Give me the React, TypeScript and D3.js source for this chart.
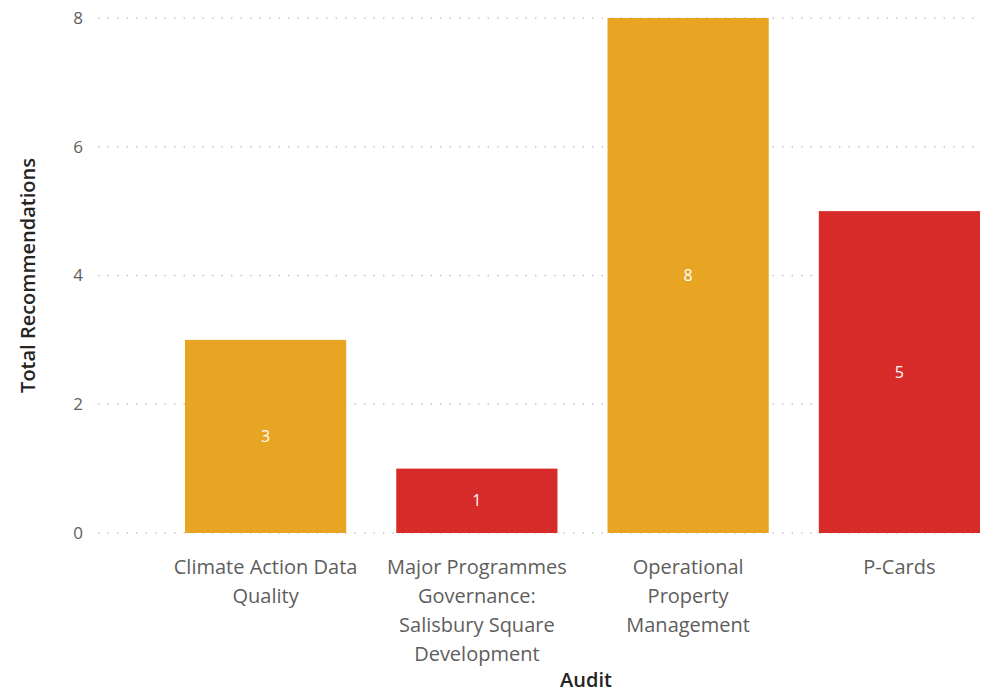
import { useEffect, useRef } from "react";
import * as d3 from "d3";

const audits: string[][] = [
  ["Climate Action Data", "Quality"],
  ["Major Programmes", "Governance:", "Salisbury Square", "Development"],
  ["Operational", "Property", "Management"],
  ["P-Cards"],
];
const recommendations = [3, 1, 8, 5];
const barColors = ["#E8A524", "#D72B2A", "#E8A524", "#D72B2A"];
const yTicks = [0, 2, 4, 6, 8];

const FONT = "'Open Sans', 'Noto Sans', sans-serif";

export default function App() {
  const ref = useRef<SVGSVGElement | null>(null);

  useEffect(() => {
    const width = 983;
    const height = 692;
    const svg = d3.select(ref.current).attr("width", width).attr("height", height);
    svg.selectAll("*").remove();

    const keys = audits.map((a) => a.join(" "));

    const x = d3.scaleBand().domain(keys).range([185, 980]).paddingInner(0.237).paddingOuter(0);
    const y = d3.scaleLinear().domain([0, 8]).range([533, 18]);

    // gridlines
    svg
      .append("g")
      .selectAll("line")
      .data(yTicks)
      .enter()
      .append("line")
      .attr("x1", 98)
      .attr("x2", 978)
      .attr("y1", (d) => y(d))
      .attr("y2", (d) => y(d))
      .attr("stroke", "#C8C6C4")
      .attr("stroke-width", 1.5)
      .attr("stroke-dasharray", "1.5,8");

    // y tick labels
    svg
      .append("g")
      .selectAll("text")
      .data(yTicks)
      .enter()
      .append("text")
      .attr("x", 83)
      .attr("y", (d) => y(d))
      .attr("dy", "0.35em")
      .attr("text-anchor", "end")
      .style("font-family", FONT)
      .style("font-size", "17px")
      .attr("fill", "#605E5C")
      .text((d) => d);

    // bars
    svg
      .append("g")
      .selectAll("rect")
      .data(recommendations)
      .enter()
      .append("rect")
      .attr("x", (_, i) => x(keys[i])!)
      .attr("y", (d) => y(d))
      .attr("width", x.bandwidth())
      .attr("height", (d) => y(0) - y(d))
      .attr("fill", (_, i) => barColors[i]);

    // data labels
    svg
      .append("g")
      .selectAll("text")
      .data(recommendations)
      .enter()
      .append("text")
      .attr("x", (_, i) => x(keys[i])! + x.bandwidth() / 2)
      .attr("y", (d) => (y(d) + y(0)) / 2)
      .attr("dy", "0.35em")
      .attr("text-anchor", "middle")
      .style("font-family", FONT)
      .style("font-size", "16px")
      .attr("fill", "#FFFFFF")
      .text((d) => d);

    // category labels
    const cat = svg
      .append("g")
      .selectAll("text")
      .data(audits)
      .enter()
      .append("text")
      .attr("text-anchor", "middle")
      .style("font-family", FONT)
      .style("font-size", "20px")
      .attr("fill", "#605E5C");
    cat
      .selectAll("tspan")
      .data((d) => d.map((line, j) => ({ line, j, key: d.join(" ") })))
      .enter()
      .append("tspan")
      .attr("x", (d) => x(d.key)! + x.bandwidth() / 2)
      .attr("y", (d) => 574 + d.j * 29)
      .text((d) => d.line);

    // axis titles
    svg
      .append("text")
      .attr("transform", `translate(35,${(y(0) + y(8)) / 2}) rotate(-90)`)
      .attr("text-anchor", "middle")
      .style("font-family", FONT)
      .style("font-size", "20px")
      .style("font-weight", 600)
      .attr("fill", "#252423")
      .text("Total Recommendations");

    svg
      .append("text")
      .attr("x", 586)
      .attr("y", 687)
      .attr("text-anchor", "middle")
      .style("font-family", FONT)
      .style("font-size", "20px")
      .style("font-weight", 600)
      .attr("fill", "#252423")
      .text("Audit");
  }, []);

  return (
    <svg
      ref={ref}
      style={{ position: "absolute", left: 0, top: 0, display: "block" }}
    />
  );
}
